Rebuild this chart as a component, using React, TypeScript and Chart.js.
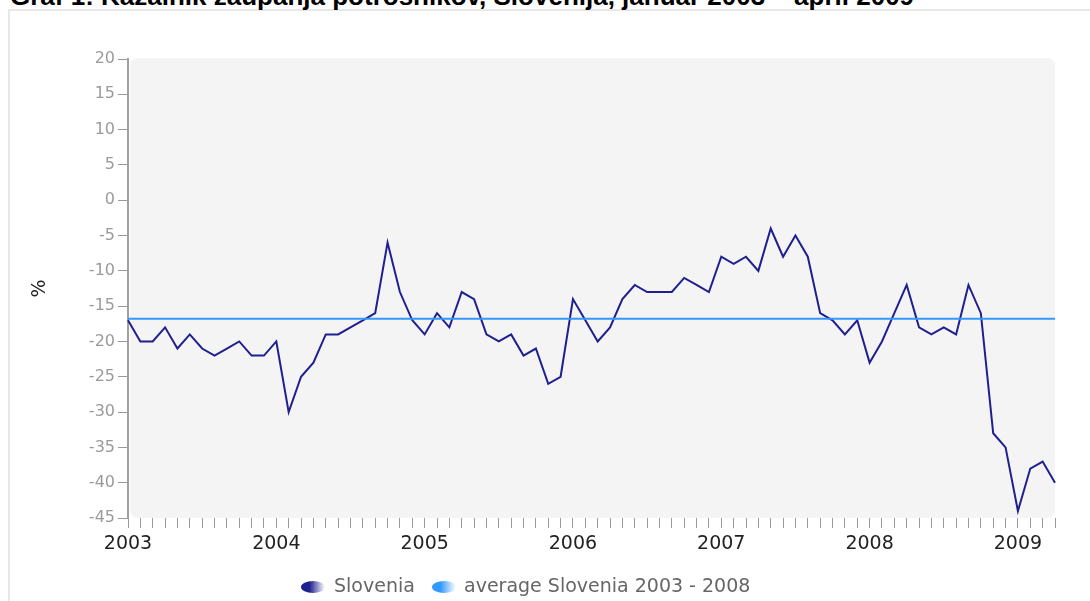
import React, { useEffect, useRef } from 'react';
import { Chart, registerables } from 'chart.js';

Chart.register(...registerables);

const TITLE = 'Graf 1: Kazalnik zaupanja potrošnikov, Slovenija, januar 2003 – april 2009';
const YEARS = ['2003', '2004', '2005', '2006', '2007', '2008', '2009'];
const MONTHS = ['01', '02', '03', '04', '05', '06', '07', '08', '09', '10', '11', '12'];
const LAST_YEAR_MONTHS = 4;

const CATEGORIES: string[] = [];
YEARS.forEach((y, yi) => {
  const n = yi === YEARS.length - 1 ? LAST_YEAR_MONTHS : 12;
  for (let m = 0; m < n; m++) CATEGORIES.push(`${y}-${MONTHS[m]}`);
});

const SLOVENIA = [
  -17, -20, -20, -18, -21, -19, -21, -22, -21, -20, -22, -22,
  -20, -30, -25, -23, -19, -19, -18, -17, -16, -6, -13, -17,
  -19, -16, -18, -13, -14, -19, -20, -19, -22, -21, -26, -25,
  -14, -17, -20, -18, -14, -12, -13, -13, -13, -11, -12, -13,
  -8, -9, -8, -10, -4, -8, -5, -8, -16, -17, -19, -17,
  -23, -20, -16, -12, -18, -19, -18, -19, -12, -16, -33, -35,
  -44, -38, -37, -40,
];

const AVERAGE_2003_2008 = -16.8;

const SERIES_NAMES = ['Slovenia', 'average Slovenia 2003 - 2008'];
const SERIES_COLORS = ['#1f1f8f', '#3399ff'];

const Y_MIN = -45;
const Y_MAX = 20;
const Y_STEP = 5;

const FONT = '"DejaVu Sans", Verdana, sans-serif';

const bgPlugin = {
  id: 'plotBg',
  beforeDraw(chart: any) {
    const { ctx, chartArea } = chart;
    ctx.save();
    ctx.fillStyle = '#f4f4f4';
    ctx.beginPath();
    ctx.roundRect(chartArea.left + 2, chartArea.top - 1, chartArea.right - chartArea.left - 2, chartArea.bottom - chartArea.top + 1, 8);
    ctx.fill();
    ctx.restore();
  },
};

const legendPlugin = {
  id: 'customLegend',
  afterDraw(chart: any) {
    const { ctx } = chart;
    const items = [
      { x: 313, textX: 334 },
      { x: 444, textX: 464 },
    ];
    ctx.save();
    ctx.font = `19px ${FONT}`;
    ctx.textBaseline = 'middle';
    items.forEach((it, i) => {
      const cy = 587;
      const g = ctx.createLinearGradient(it.x - 12, cy, it.x + 12, cy);
      g.addColorStop(0, SERIES_COLORS[i]);
      g.addColorStop(0.35, SERIES_COLORS[i]);
      g.addColorStop(1, '#ffffff');
      ctx.fillStyle = g;
      ctx.beginPath();
      ctx.ellipse(it.x, cy, 12, 6, 0, 0, Math.PI * 2);
      ctx.fill();
      ctx.fillStyle = '#666';
      ctx.textAlign = 'left';
      ctx.fillText(SERIES_NAMES[i], it.textX, cy);
    });
    ctx.restore();
  },
};

export default function App() {
  const ref = useRef<HTMLCanvasElement | null>(null);

  useEffect(() => {
    if (!ref.current) return;
    const chart = new Chart(ref.current, {
      type: 'line',
      data: {
        labels: CATEGORIES,
        datasets: [
          {
            label: SERIES_NAMES[0],
            data: SLOVENIA,
            borderColor: SERIES_COLORS[0],
            borderWidth: 2,
            pointRadius: 0,
            tension: 0,
            fill: false,
            order: 1,
          },
          {
            label: SERIES_NAMES[1],
            data: [
              { x: CATEGORIES[0], y: AVERAGE_2003_2008 },
              { x: CATEGORIES[CATEGORIES.length - 1], y: AVERAGE_2003_2008 },
            ] as any,
            borderColor: SERIES_COLORS[1],
            borderWidth: 2,
            pointRadius: 0,
            tension: 0,
            fill: false,
            order: 0,
          },
        ],
      },
      options: {
        responsive: false,
        animation: false,
        layout: { padding: { left: 0, top: 59, right: 35, bottom: 0 } },
        plugins: {
          legend: { display: false },
          tooltip: { enabled: false },
          title: { display: false },
        },
        scales: {
          x: {
            type: 'category',
            offset: false,
            afterFit: (scale: any) => {
              scale.height = 83;
            },
            grid: {
              display: true,
              drawOnChartArea: false,
              drawTicks: true,
              tickLength: 10,
              color: '#9a9a9a',
              lineWidth: 1,
            },
            border: { display: false },
            ticks: {
              autoSkip: false,
              maxRotation: 0,
              minRotation: 0,
              padding: 5,
              color: '#222',
              font: { family: FONT, size: 19 },
              callback: (_v: any, index: number) => (index % 12 === 0 ? YEARS[index / 12] : ''),
            },
          },
          y: {
            min: Y_MIN,
            max: Y_MAX,
            afterFit: (scale: any) => {
              scale.width = 128;
            },
            grid: {
              display: true,
              drawOnChartArea: false,
              drawTicks: true,
              tickLength: 10,
              color: '#9a9a9a',
              lineWidth: 1,
            },
            border: { display: true, color: '#a0a0a0', width: 2 },
            ticks: {
              stepSize: Y_STEP,
              padding: 3,
              color: '#9a9a9a',
              font: { family: FONT, size: 16 },
            },
            title: {
              display: true,
              text: '%',
              color: '#222',
              font: { family: FONT, size: 19 },
              padding: { top: 29, bottom: 0 },
            },
          },
        },
      },
      plugins: [bgPlugin, legendPlugin],
    });
    return () => chart.destroy();
  }, []);

  return (
    <div style={{ position: 'absolute', left: 0, top: 0, width: 1090, height: 601, overflow: 'hidden', background: '#fff' }}>
      <div
        style={{
          position: 'absolute',
          left: 8,
          top: 9,
          width: 1200,
          height: 700,
          border: '2px solid #e8e8e8',
          boxSizing: 'border-box',
        }}
      />
      <div
        style={{
          position: 'absolute',
          left: 10,
          top: -17,
          whiteSpace: 'nowrap',
          fontFamily: '"Liberation Sans", Arial, sans-serif',
          fontWeight: 'bold',
          fontSize: 26,
          lineHeight: '26px',
          color: '#000',
        }}
      >
        {TITLE}
      </div>
      <canvas ref={ref} width={1090} height={601} style={{ position: 'absolute', left: 0, top: 0, width: 1090, height: 601 }} />
    </div>
  );
}
